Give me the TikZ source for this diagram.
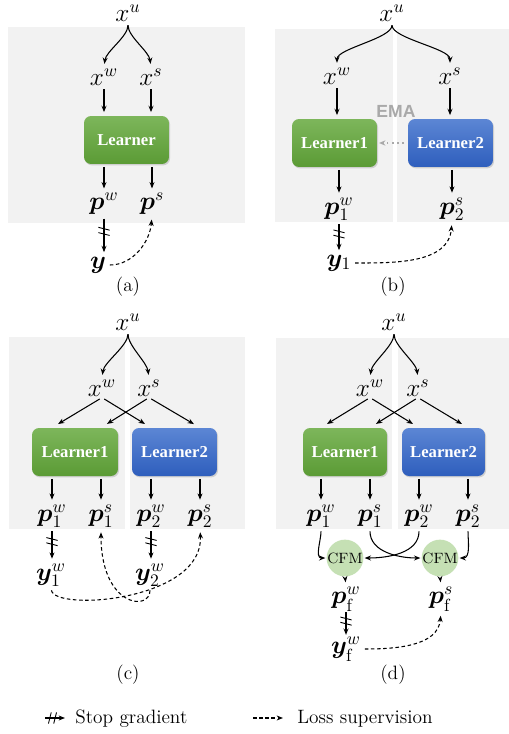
\documentclass[tikz,border=0pt]{standalone}
\usepackage{amsmath}
\usepackage{bm}
\usepackage{fontspec}
\newfontfamily\boxfont{Liberation Serif}
\newfontfamily\emafont{Liberation Sans}
\usetikzlibrary{arrows.meta,calc,shadows,decorations.markings}

\definecolor{panelgray}{HTML}{F2F2F2}
\definecolor{greentop}{HTML}{7DB65B}
\definecolor{greenbot}{HTML}{5B9B35}
\definecolor{bluetop}{HTML}{5C86D4}
\definecolor{bluebot}{HTML}{2E5EBD}
\definecolor{cfmgreen}{HTML}{C5E0B4}
\definecolor{emagray}{HTML}{A9A9A9}

\begin{document}
\begin{tikzpicture}[x=0.02cm,y=-0.02cm,
	arr/.style={-{Stealth[length=3.6pt,width=2.8pt]},line width=0.6pt,shorten <=1.5pt,shorten >=2pt},
	loss/.style={arr,dash pattern=on 2pt off 1.5pt},
	stopgrad/.style={arr,postaction={decorate},
		decoration={markings,mark=at position 0.4 with {
			\draw[-,solid,line width=0.5pt,shorten <=0pt,shorten >=0pt] (-2.6pt,-3.2pt) -- (-1pt,3.2pt);
			\draw[-,solid,line width=0.5pt,shorten <=0pt,shorten >=0pt] (0.4pt,-3.2pt) -- (2pt,3.2pt);}}},
	ema/.style={-{Stealth[length=3.6pt,width=3pt]},draw=emagray,line width=1pt,dotted,shorten <=2pt,shorten >=1pt},
	lbl/.style={inner sep=0.5pt,font=\fontsize{14.4}{17}\selectfont},
	captxt/.style={font=\fontsize{11}{13}\selectfont},
	learner/.style={rounded corners=4pt,minimum width=1.7cm,minimum height=0.96cm,text=white,
		font=\boxfont\bfseries\fontsize{9.5}{11}\selectfont,
		drop shadow={opacity=0.3,shadow xshift=0.6pt,shadow yshift=-0.8pt}},
	greenbox/.style={learner,top color=greentop,bottom color=greenbot},
	bluebox/.style={learner,top color=bluetop,bottom color=bluebot},
	cfm/.style={circle,fill=cfmgreen,minimum size=0.68cm,inner sep=0pt,font=\fontsize{8.5}{10}\selectfont}]
	\useasboundingbox (0,0) rectangle (509,734);

	% backgrounds
	\fill[panelgray] (8,27) rectangle (245,223);
	\fill[panelgray] (275,29) rectangle (393,222);
	\fill[panelgray] (397,29) rectangle (509,222);
	\fill[panelgray] (9,337) rectangle (125,529);
	\fill[panelgray] (130,337) rectangle (245,529);
	\fill[panelgray] (276,338) rectangle (392,529);
	\fill[panelgray] (398,338) rectangle (509,529);

	% (a) single learner
	\node[lbl] (a-xu) at (128,13) {$x^u$};
	\node[lbl] (a-xw) at (104,77) {$x^w$};
	\node[lbl] (a-xs) at (151,77) {$x^s$};
	\node[greenbox] (a-L) at (126.5,140) {Learner};
	\node[lbl] (a-pw) at (104,204) {$\bm{p}^w$};
	\node[lbl] (a-ps) at (152,204) {$\bm{p}^s$};
	\node[lbl] (a-y) at (98,265) {$\bm{y}$};
	\node[captxt] (a-cap) at (128,287) {(a)};

	\draw[arr] (a-xu.south) .. controls +(0,14) and +(2,-16) .. (a-xw.north);
	\draw[arr] (a-xu.south) .. controls +(0,14) and +(-2,-16) .. (a-xs.north);
	\draw[arr] (a-xw.south) -- (a-xw.south |- a-L.north);
	\draw[arr] (a-xs.south) -- (a-xs.south |- a-L.north);
	\draw[arr] (a-pw.north |- a-L.south) -- (a-pw.north);
	\draw[arr] (a-ps.north |- a-L.south) -- (a-ps.north);
	\draw[stopgrad] (a-pw.south) -- (a-pw.south |- a-y.north);
	\draw[loss] (a-y.east) to[out=0,in=-95] (a-ps.south);

	% (b) mean teacher
	\node[lbl] (b-xu) at (392,13) {$x^u$};
	\node[lbl] (b-xw) at (337,76) {$x^w$};
	\node[lbl] (b-xs) at (450,76) {$x^s$};
	\node[greenbox] (b-L1) at (334.5,143) {Learner1};
	\node[bluebox] (b-L2) at (450.5,143) {Learner2};
	\node[text=emagray,font=\emafont\bfseries\fontsize{10}{12}\selectfont] (b-ema) at (396,111) {EMA};
	\node[lbl] (b-pw) at (339,209) {$\bm{p}_1^w$};
	\node[lbl] (b-ps) at (452,209) {$\bm{p}_2^s$};
	\node[lbl] (b-y) at (339,263) {$\bm{y}_1$};
	\node[captxt] (b-cap) at (393,287) {(b)};

	\draw[arr] (b-xu.south) .. controls +(0,16) and +(0,-18) .. (b-xw.north);
	\draw[arr] (b-xu.south) .. controls +(0,16) and +(0,-18) .. (b-xs.north);
	\draw[arr] (b-xw.south) -- (b-xw.south |- b-L1.north);
	\draw[arr] (b-xs.south) -- (b-xs.south |- b-L2.north);
	\draw[arr] (b-pw.north |- b-L1.south) -- (b-pw.north);
	\draw[arr] (b-ps.north |- b-L2.south) -- (b-ps.north);
	\draw[ema] (b-L2.west) -- (b-L1.east);
	\draw[stopgrad] (b-pw.south) -- (b-pw.south |- b-y.north);
	\draw[loss] (b-y.east) to[out=0,in=-95] (b-ps.south);

	% (c) co-training
	\node[lbl] (c-xu) at (128,322) {$x^u$};
	\node[lbl] (c-xw) at (102,388) {$x^w$};
	\node[lbl] (c-xs) at (149,388) {$x^s$};
	\node[greenbox,minimum width=1.72cm] (c-L1) at (75,452) {Learner1};
	\node[bluebox,minimum width=1.7cm] (c-L2) at (174.5,452) {Learner2};
	\node[lbl] (c-p1w) at (52,516) {$\bm{p}_1^w$};
	\node[lbl] (c-p1s) at (101,516) {$\bm{p}_1^s$};
	\node[lbl] (c-p2w) at (151,516) {$\bm{p}_2^w$};
	\node[lbl] (c-p2s) at (200,516) {$\bm{p}_2^s$};
	\node[lbl] (c-y1) at (51,575) {$\bm{y}_1^w$};
	\node[lbl] (c-y2) at (150,575) {$\bm{y}_2^w$};
	\node[captxt] (c-cap) at (128,675) {(c)};

	\draw[arr] (c-xu.south) .. controls +(0,14) and +(2,-16) .. (c-xw.north);
	\draw[arr] (c-xu.south) .. controls +(0,14) and +(-2,-16) .. (c-xs.north);
	\draw[arr,shorten >=4pt] (c-xw.south) -- (c-p1w |- c-L1.north);
	\draw[arr,shorten >=4pt] (c-xw.south) -- (c-p2w |- c-L2.north);
	\draw[arr,shorten >=4pt] (c-xs.south) -- (c-p1s |- c-L1.north);
	\draw[arr,shorten >=4pt] (c-xs.south) -- (c-p2s |- c-L2.north);
	\draw[arr] (c-p1w.north |- c-L1.south) -- (c-p1w.north);
	\draw[arr] (c-p1s.north |- c-L1.south) -- (c-p1s.north);
	\draw[arr] (c-p2w.north |- c-L2.south) -- (c-p2w.north);
	\draw[arr] (c-p2s.north |- c-L2.south) -- (c-p2s.north);
	\draw[stopgrad] (c-p1w.south) -- (c-p1w.south |- c-y1.north);
	\draw[stopgrad] (c-p2w.south) -- (c-p2w.south |- c-y2.north);
	\draw[loss] (c-y1.south) .. controls +(4,24) and +(4,72) .. (c-p2s.south);
	\draw[loss] (c-y2.south) .. controls +(0,24) and +(0,78) .. (c-p1s.south);

	% (d) with CFM
	\node[lbl] (d-xu) at (394,322) {$x^u$};
	\node[lbl] (d-xw) at (370,388) {$x^w$};
	\node[lbl] (d-xs) at (418,388) {$x^s$};
	\node[greenbox,minimum width=1.68cm] (d-L1) at (345,452) {Learner1};
	\node[bluebox,minimum width=1.66cm] (d-L2) at (443.5,452) {Learner2};
	\node[lbl] (d-p1w) at (321,516) {$\bm{p}_1^w$};
	\node[lbl] (d-p1s) at (370,516) {$\bm{p}_1^s$};
	\node[lbl] (d-p2w) at (419,516) {$\bm{p}_2^w$};
	\node[lbl] (d-p2s) at (468,516) {$\bm{p}_2^s$};
	\node[cfm] (d-c1) at (345,558) {CFM};
	\node[cfm] (d-c2) at (440,558) {CFM};
	\node[lbl] (d-pfw) at (346,599) {$\bm{p}_\mathrm{f}^w$};
	\node[lbl] (d-pfs) at (441,599) {$\bm{p}_\mathrm{f}^s$};
	\node[lbl] (d-yf) at (346,649) {$\bm{y}_\mathrm{f}^w$};
	\node[captxt] (d-cap) at (393,675) {(d)};

	\draw[arr] (d-xu.south) .. controls +(0,14) and +(2,-16) .. (d-xw.north);
	\draw[arr] (d-xu.south) .. controls +(0,14) and +(-2,-16) .. (d-xs.north);
	\draw[arr,shorten >=4pt] (d-xw.south) -- (d-p1w |- d-L1.north);
	\draw[arr,shorten >=4pt] (d-xw.south) -- (d-p2w |- d-L2.north);
	\draw[arr,shorten >=4pt] (d-xs.south) -- (d-p1s |- d-L1.north);
	\draw[arr,shorten >=4pt] (d-xs.south) -- (d-p2s |- d-L2.north);
	\draw[arr] (d-p1w.north |- d-L1.south) -- (d-p1w.north);
	\draw[arr] (d-p1s.north |- d-L1.south) -- (d-p1s.north);
	\draw[arr] (d-p2w.north |- d-L2.south) -- (d-p2w.north);
	\draw[arr] (d-p2s.north |- d-L2.south) -- (d-p2s.north);
	\draw[arr,shorten >=0.5pt] (d-p1w.south) to[out=-90,in=180] (d-c1.west);
	\draw[arr,shorten >=0.5pt] (d-p2w.south) to[out=-90,in=0] (d-c1.east);
	\draw[arr,shorten >=0.5pt] (d-p1s.south) to[out=-90,in=180] (d-c2.west);
	\draw[arr,shorten >=0.5pt] (d-p2s.south) to[out=-90,in=0] (d-c2.east);
	\draw[arr] (d-c1.south) -- (d-pfw.north);
	\draw[arr] (d-c2.south) -- (d-pfs.north);
	\draw[stopgrad,shorten <=0pt,shorten >=0.5pt] (d-pfw.south) -- (d-yf.north);
	\draw[loss] (d-yf.east) to[out=0,in=-95] (d-pfs.south);

	% legend
	\coordinate (sg-a) at (45,718);
	\coordinate (sg-b) at (65,718);
	\draw[stopgrad,shorten <=0pt,shorten >=0pt] (sg-a) -- (sg-b);
	\node[captxt,anchor=west,inner sep=0pt] (sg-txt) at (75,719) {Stop gradient};
	\coordinate (ls-a) at (253,718);
	\coordinate (ls-b) at (283,718);
	\draw[loss,shorten <=0pt,shorten >=0pt] (ls-a) -- (ls-b);
	\node[captxt,anchor=west,inner sep=0pt] (ls-txt) at (297,719) {Loss supervision};
\end{tikzpicture}
\end{document}
